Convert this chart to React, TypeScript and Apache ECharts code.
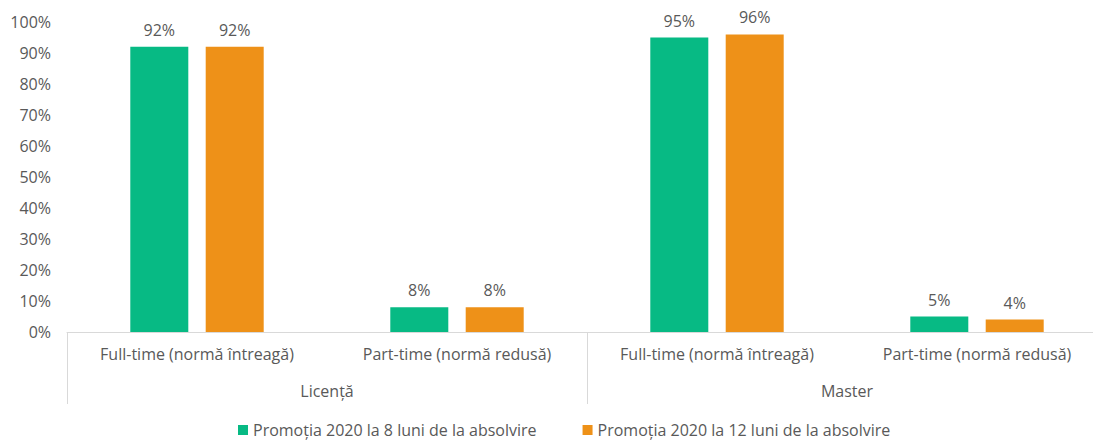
import React, { useEffect, useRef } from "react";
import * as echarts from "echarts";

const categories = [
  "Full-time (normă întreagă)",
  "Part-time (normă redusă)",
  "Full-time (normă întreagă)",
  "Part-time (normă redusă)",
];
const groups = ["Licență", "Master"];
const seriesNames = [
  "Promoția 2020 la 8 luni de la absolvire",
  "Promoția 2020 la 12 luni de la absolvire",
];
const values8 = [92, 8, 95, 5];
const values12 = [92, 8, 96, 4];
const yTicks = { min: 0, max: 100, interval: 10 };

const FONT = "Open Sans";
const FS = 16;
const TEXT = "#595959";
const GREEN = "#07BA84";
const ORANGE = "#EE9118";

export default function App() {
  const ref = useRef<HTMLDivElement>(null);
  useEffect(() => {
    if (!ref.current) return;
    const chart = echarts.init(ref.current, undefined, { renderer: "svg" });
    const labelStyle = {
      show: true,
      position: "top",
      distance: 9,
      formatter: "{c}%",
      color: TEXT,
      fontSize: FS,
      fontFamily: FONT,
    };
    chart.setOption({
      animation: false,
      textStyle: { fontFamily: FONT },
      grid: {
        left: 67,
        top: 22,
        width: 1040,
        height: 310,
        containLabel: false,
        outerBoundsMode: "none",
      },
      legend: {
        left: 238,
        top: 421,
        padding: 0,
        itemWidth: 10,
        itemHeight: 10,
        itemGap: 46,
        icon: "rect",
        textStyle: { color: TEXT, fontSize: FS, fontFamily: FONT, lineHeight: 18 },
        data: seriesNames,
      },
      xAxis: [
        {
          type: "category",
          data: categories,
          position: "bottom",
          axisLine: { show: true, lineStyle: { color: "#D9D9D9", width: 1 } },
          axisTick: { show: false },
          axisLabel: {
            color: TEXT,
            fontSize: FS,
            fontFamily: FONT,
            margin: 14,
            interval: 0,
          },
          splitLine: { show: false },
        },
        {
          type: "category",
          data: groups,
          position: "bottom",
          boundaryGap: true,
          axisLine: { show: false },
          axisTick: {
            show: true,
            length: 72,
            lineStyle: { color: "#D9D9D9", width: 1 },
          },
          axisLabel: {
            color: TEXT,
            fontSize: FS,
            fontFamily: FONT,
            margin: 51,
            interval: 0,
          },
          splitLine: { show: false },
        },
      ],
      yAxis: {
        type: "value",
        min: yTicks.min,
        max: yTicks.max,
        interval: yTicks.interval,
        axisLine: { show: false },
        axisTick: { show: false },
        splitLine: { show: false },
        axisLabel: {
          formatter: "{value}%",
          color: TEXT,
          fontSize: FS,
          fontFamily: FONT,
          margin: 16,
        },
      },
      series: [
        {
          name: seriesNames[0],
          type: "bar",
          xAxisIndex: 0,
          data: values8,
          barWidth: 58,
          barGap: "30%",
          itemStyle: { color: GREEN },
          label: labelStyle,
        },
        {
          name: seriesNames[1],
          type: "bar",
          xAxisIndex: 0,
          data: values12,
          barWidth: 58,
          barGap: "30%",
          itemStyle: { color: ORANGE },
          label: labelStyle,
        },
      ],
    });
    return () => chart.dispose();
  }, []);
  return (
    <div
      ref={ref}
      style={{ position: "fixed", left: 0, top: 0, width: 1093, height: 440, background: "#fff" }}
    />
  );
}
